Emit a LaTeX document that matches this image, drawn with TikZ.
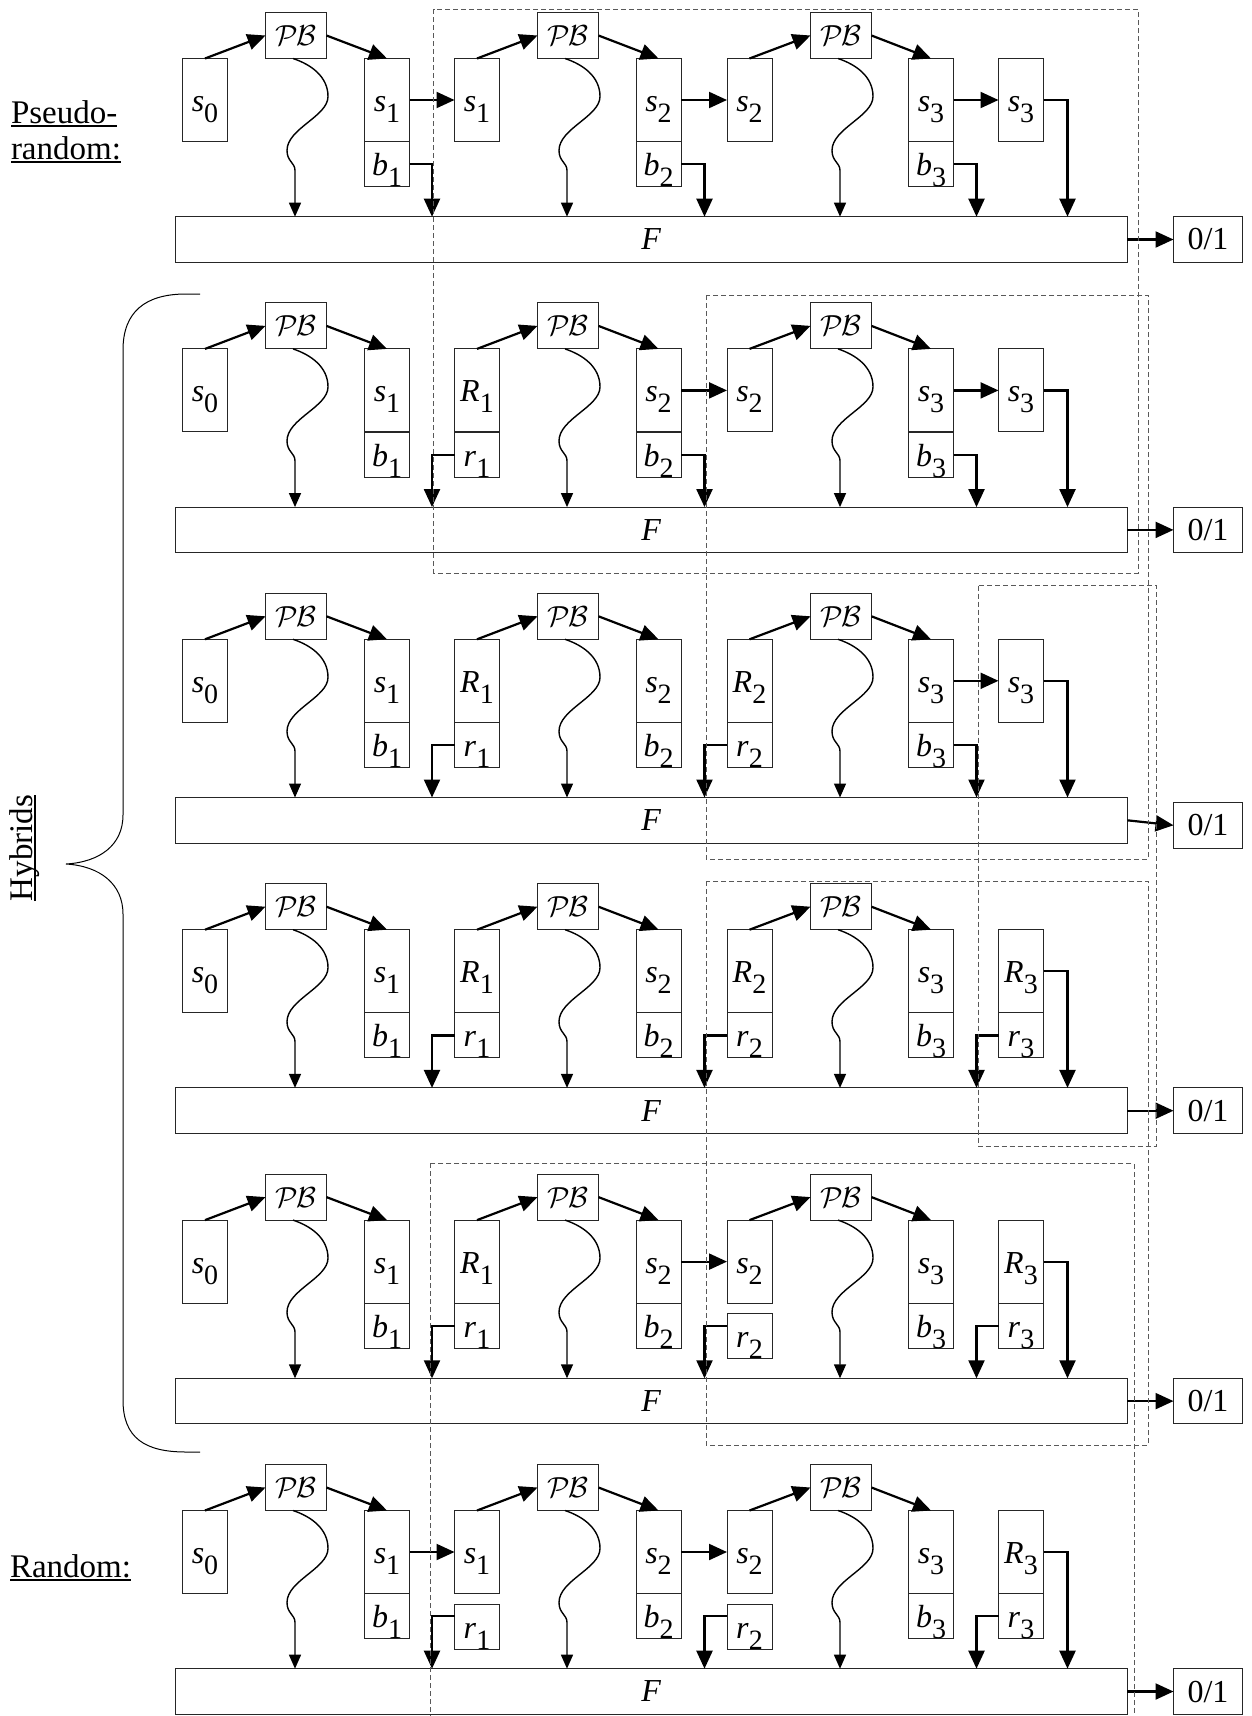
\RequirePackage{fix-cm}
\documentclass[tikz,border=0pt]{standalone}
\usepackage{fontspec}
\setmainfont{Liberation Serif}
\usetikzlibrary{arrows.meta,calc}

\newcommand\mv[2]{\textit{#1}\smash{\raisebox{-11pt}{\fontsize{28}{28}\selectfont #2}}}
\newcommand\pbt{$\mathcal{P}\mkern-1mu\mathcal{B}$}
\newsavebox\ulb
\newcommand\ulbox[1]{\sbox\ulb{#1}\makebox[0pt][l]{\rule[-3.5pt]{\wd\ulb}{1.3pt}}\usebox\ulb}
\newcommand\oy{0}

\tikzset{
  bx/.style={draw=black!85, line width=0.9pt, inner sep=0pt, outer sep=0pt, font=\fontsize{32}{38}\selectfont},
  sbx/.style={bx, minimum width=45pt, minimum height=83pt, text height=23pt, text depth=0pt},
  bbx/.style={bx, minimum width=45pt, minimum height=45pt, text height=23pt, text depth=0pt},
  pbx/.style={bx, minimum width=61pt, minimum height=46pt, font=\fontsize{29}{32}\selectfont},
  fbx/.style={bx, minimum width=952.4pt, minimum height=45.6pt},
  obx/.style={bx, minimum width=69pt, minimum height=45.6pt},
  arr/.style={draw=black, line width=2.2pt, -{Triangle[length=18pt,width=16pt]}},
  wav/.style={draw=black, line width=1.4pt, -{Triangle[length=14pt,width=12pt]}},
  dsh/.style={draw=black!65, line width=0.9pt, dash pattern=on 5pt off 3pt},
  brc/.style={draw=black, line width=1pt},
  lbl/.style={inner sep=0pt, outer sep=0pt, font=\fontsize{33}{40}\selectfont},
}

\newcommand\wavy[2]{%
  \coordinate (#1w) at ($(#1.south)+(-1,112)$);
  \draw[wav] ($(#1.south)+(-3,0)$) .. controls ($(#1.south)+(15,6)$) and ($(#1.south)+(32,18)$) .. ($(#1.south)+(32,38)$)
    .. controls ($(#1.south)+(32,58)$) and ($(#1.south)+(-9,70)$) .. ($(#1.south)+(-9,92)$)
    .. controls ($(#1.south)+(-9,103)$) and ($(#1.south)+(-1,104)$) .. (#1w)
    -- (#1w |- #2.north);
}

\newcommand\commonrow[2]{%
  \node[sbx] (#1s0) at (205,\oy+100) {\mv{s}{0}};
  \node[pbx] (#1p1) at (296,\oy+35.5) {\pbt};
  \node[sbx] (#1c1) at (387,\oy+100) {\mv{s}{1}};
  \node[bbx] (#1c1b) at (387,\oy+164.2) {\mv{b}{1}};
  \node[pbx] (#1p2) at (568,\oy+35.5) {\pbt};
  \node[sbx] (#1c2) at (658.5,\oy+100) {\mv{s}{2}};
  \node[bbx] (#1c2b) at (658.5,\oy+164.2) {\mv{b}{2}};
  \node[pbx] (#1p3) at (841,\oy+35.5) {\pbt};
  \node[sbx] (#1c3) at (931,\oy+100) {\mv{s}{3}};
  \node[bbx] (#1c3b) at (931,\oy+164.2) {\mv{b}{3}};
  \node[fbx] (#1F) at (651.2,\oy+239.5) {\textit{F}};
  \node[obx] (#1O) at (1208,\oy+239.5+#2) {0/1};
  \draw[arr] (#1s0.north) -- (#1p1.west);
  \draw[arr] (#1p1.east) -- (#1c1.north);
  \draw[arr] (#1p2.east) -- (#1c2.north);
  \draw[arr] (#1p3.east) -- (#1c3.north);
  \draw[arr] (#1F.east) -- (#1O.west);
  \wavy{#1p1}{#1F}\wavy{#1p2}{#1F}\wavy{#1p3}{#1F}%
}

\begin{document}
\begin{tikzpicture}[x=1pt,y=-1pt]
\clip (0,0) rectangle (1251,1716);

% ---------- Row a: pseudo-random
\renewcommand\oy{0}
\commonrow{a}{0}
\node[sbx] (ac1p) at (477,\oy+100) {\mv{s}{1}};
\node[sbx] (ac2p) at (749.5,\oy+100) {\mv{s}{2}};
\node[sbx] (ac3p) at (1021,\oy+100) {\mv{s}{3}};
\draw[arr] (ac1b.east) -| (aF.north -| 432,0);
\draw[arr] (ac1.east) -- (ac1p.west);
\draw[arr] (ac1p.north) -- (ap2.west);
\draw[arr] (ac2b.east) -| (aF.north -| 704.5,0);
\draw[arr] (ac2.east) -- (ac2p.west);
\draw[arr] (ac2p.north) -- (ap3.west);
\draw[arr] (ac3b.east) -| (aF.north -| 976.5,0);
\draw[arr] (ac3.east) -- (ac3p.west);
\draw[arr] (ac3p.east) -| (aF.north -| 1067.5,0);

% ---------- Row b
\renewcommand\oy{290.4}
\commonrow{b}{0}
\node[sbx] (bc1p) at (477,\oy+100) {\mv{R}{1}};
\node[bbx] (bc1pr) at (477,\oy+164.2) {\mv{r}{1}};
\node[sbx] (bc2p) at (749.5,\oy+100) {\mv{s}{2}};
\node[sbx] (bc3p) at (1021,\oy+100) {\mv{s}{3}};
\draw[arr] (bc1pr.west) -| (bF.north -| 432,0);
\draw[arr] (bc1p.north) -- (bp2.west);
\draw[arr] (bc2b.east) -| (bF.north -| 704.5,0);
\draw[arr] (bc2.east) -- (bc2p.west);
\draw[arr] (bc2p.north) -- (bp3.west);
\draw[arr] (bc3b.east) -| (bF.north -| 976.5,0);
\draw[arr] (bc3.east) -- (bc3p.west);
\draw[arr] (bc3p.east) -| (bF.north -| 1067.5,0);

% ---------- Row c
\renewcommand\oy{580.8}
\commonrow{c}{5}
\node[sbx] (cc1p) at (477,\oy+100) {\mv{R}{1}};
\node[bbx] (cc1pr) at (477,\oy+164.2) {\mv{r}{1}};
\node[sbx] (cc2p) at (749.5,\oy+100) {\mv{R}{2}};
\node[bbx] (cc2pr) at (749.5,\oy+164.2) {\mv{r}{2}};
\node[sbx] (cc3p) at (1021,\oy+100) {\mv{s}{3}};
\draw[arr] (cc1pr.west) -| (cF.north -| 432,0);
\draw[arr] (cc1p.north) -- (cp2.west);
\draw[arr] (cc2pr.west) -| (cF.north -| 704.5,0);
\draw[arr] (cc2p.north) -- (cp3.west);
\draw[arr] (cc3b.east) -| (cF.north -| 976.5,0);
\draw[arr] (cc3.east) -- (cc3p.west);
\draw[arr] (cc3p.east) -| (cF.north -| 1067.5,0);

% ---------- Row d
\renewcommand\oy{871.2}
\commonrow{d}{0}
\node[sbx] (dc1p) at (477,\oy+100) {\mv{R}{1}};
\node[bbx] (dc1pr) at (477,\oy+164.2) {\mv{r}{1}};
\node[sbx] (dc2p) at (749.5,\oy+100) {\mv{R}{2}};
\node[bbx] (dc2pr) at (749.5,\oy+164.2) {\mv{r}{2}};
\node[sbx] (dc3p) at (1021,\oy+100) {\mv{R}{3}};
\node[bbx] (dc3pr) at (1021,\oy+164.2) {\mv{r}{3}};
\draw[arr] (dc1pr.west) -| (dF.north -| 432,0);
\draw[arr] (dc1p.north) -- (dp2.west);
\draw[arr] (dc2pr.west) -| (dF.north -| 704.5,0);
\draw[arr] (dc2p.north) -- (dp3.west);
\draw[arr] (dc3pr.west) -| (dF.north -| 976.5,0);
\draw[arr] (dc3p.east) -| (dF.north -| 1067.5,0);

% ---------- Row e
\renewcommand\oy{1161.6}
\commonrow{e}{0}
\node[sbx] (ec1p) at (477,\oy+100) {\mv{R}{1}};
\node[bbx] (ec1pr) at (477,\oy+164.2) {\mv{r}{1}};
\node[sbx] (ec2p) at (749.5,\oy+100) {\mv{s}{2}};
\node[bbx] (ec2pr) at (749.5,\oy+174.5) {\mv{r}{2}};
\node[sbx] (ec3p) at (1021,\oy+100) {\mv{R}{3}};
\node[bbx] (ec3pr) at (1021,\oy+164.2) {\mv{r}{3}};
\draw[arr] (ec1pr.west) -| (eF.north -| 432,0);
\draw[arr] (ec1p.north) -- (ep2.west);
\draw[arr] (ec2.east) -- (ec2p.west);
\draw[arr] (ec2pr.west |- 0,\oy+164.2) -| (eF.north -| 704.5,0);
\draw[arr] (ec2p.north) -- (ep3.west);
\draw[arr] (ec3pr.west) -| (eF.north -| 976.5,0);
\draw[arr] (ec3p.east) -| (eF.north -| 1067.5,0);

% ---------- Row f: random
\renewcommand\oy{1452}
\commonrow{f}{0}
\node[sbx] (fc1p) at (477,\oy+100) {\mv{s}{1}};
\node[bbx] (fc1pr) at (477,\oy+174.5) {\mv{r}{1}};
\node[sbx] (fc2p) at (749.5,\oy+100) {\mv{s}{2}};
\node[bbx] (fc2pr) at (749.5,\oy+174.5) {\mv{r}{2}};
\node[sbx] (fc3p) at (1021,\oy+100) {\mv{R}{3}};
\node[bbx] (fc3pr) at (1021,\oy+164.2) {\mv{r}{3}};
\draw[arr] (fc1.east) -- (fc1p.west);
\draw[arr] (fc1pr.west |- 0,\oy+164.2) -| (fF.north -| 432,0);
\draw[arr] (fc1p.north) -- (fp2.west);
\draw[arr] (fc2.east) -- (fc2p.west);
\draw[arr] (fc2pr.west |- 0,\oy+164.2) -| (fF.north -| 704.5,0);
\draw[arr] (fc2p.north) -- (fp3.west);
\draw[arr] (fc3pr.west) -| (fF.north -| 976.5,0);
\draw[arr] (fc3p.east) -| (fF.north -| 1067.5,0);

% ---------- dashed frames
\draw[dsh] (433.5,9.3) rectangle (1138,573);
\draw[dsh] (706,295) rectangle (1148,859);
\draw[dsh] (978,585.7) rectangle (1156.5,1146);
\draw[dsh] (706,881) rectangle (1148,1445);
\draw[dsh] (430,1163.3) rectangle (1134,1722);

% ---------- brace
\draw[brc] (200,294) -- (186,294) .. controls (145,294) and (123,312) .. (123,350)
  -- (123,815) .. controls (123,845) and (100,862) .. (66,864)
  .. controls (100,866) and (123,884) .. (123,914)
  -- (123,1400) .. controls (123,1438) and (145,1452) .. (186,1452) -- (200,1452);

% ---------- labels
\node[lbl, anchor=base west] (lpa) at (11,123) {\ulbox{Pseudo-}};
\node[lbl, anchor=base west] (lpb) at (11,159) {\ulbox{random:}};
\node[lbl, anchor=base west] (lr) at (10,1577) {\ulbox{Random:}};
\node[lbl, rotate=90, anchor=base] (lh) at (32,848) {\ulbox{Hybrids}};
\end{tikzpicture}
\end{document}
